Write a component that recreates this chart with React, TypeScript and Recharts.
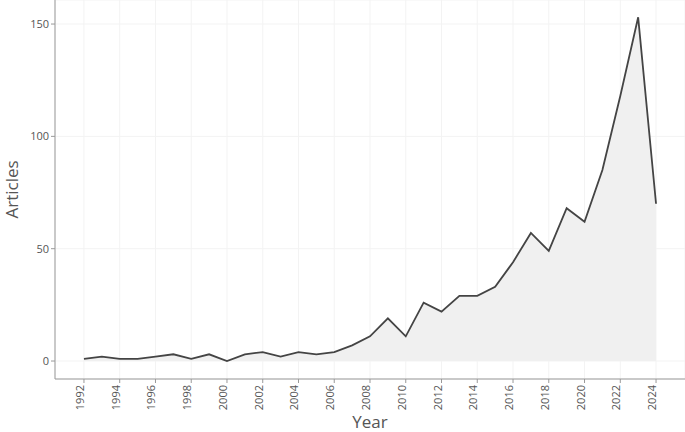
import React from "react";
import {
  AreaChart,
  Area,
  XAxis,
  YAxis,
  CartesianGrid,
  Label,
} from "recharts";

const years = [
  1992, 1993, 1994, 1995, 1996, 1997, 1998, 1999, 2000, 2001, 2002, 2003, 2004,
  2005, 2006, 2007, 2008, 2009, 2010, 2011, 2012, 2013, 2014, 2015, 2016, 2017,
  2018, 2019, 2020, 2021, 2022, 2023, 2024,
];
const articles = [
  1, 2, 1, 1, 2, 3, 1, 3, 0, 3, 4, 2, 4, 3, 4, 7, 11, 19, 11, 26, 22, 29, 29,
  33, 44, 57, 49, 68, 62, 85, 118, 153, 70,
];
const yearTicks = [
  1992, 1994, 1996, 1998, 2000, 2002, 2004, 2006, 2008, 2010, 2012, 2014, 2016,
  2018, 2020, 2022, 2024,
];
const articleTicks = [0, 50, 100, 150];

const data = years.map((year, i) => ({ year, articles: articles[i] }));

const font = "'Open Sans', 'DejaVu Sans', sans-serif";

const YearTick = (props: any) => {
  const { x, y, payload } = props;
  return (
    <text
      x={x}
      y={y}
      dx={4}
      dy={4}
      transform={`rotate(-90, ${x}, ${y + 4})`}
      textAnchor="end"
      fontSize={11}
      fontFamily={font}
      fill="#555"
    >
      {payload.value}
    </text>
  );
};

const YearLabel = (props: any) => {
  const { viewBox } = props;
  const cx = viewBox.x + viewBox.width / 2;
  return (
    <text
      x={cx}
      y={428}
      textAnchor="middle"
      fontSize={17}
      fontFamily={font}
      fill="#555"
    >
      Year
    </text>
  );
};

const ArticlesLabel = (props: any) => {
  const { viewBox } = props;
  const cy = viewBox.y + viewBox.height / 2;
  return (
    <text
      x={18}
      y={cy}
      transform={`rotate(-90, 18, ${cy})`}
      textAnchor="middle"
      fontSize={17}
      fontFamily={font}
      fill="#555"
    >
      Articles
    </text>
  );
};

export default function App() {
  return (
    <div style={{ width: 685, height: 432 }}>
      <style>{`body{margin:0}`}</style>
      <AreaChart
        width={685}
        height={432}
        data={data}
        margin={{ top: 0, right: 0, left: 0, bottom: 0 }}
      >
        <CartesianGrid stroke="#f3f3f3" strokeWidth={1} />
        <XAxis
          dataKey="year"
          type="number"
          domain={[1990.38, 2025.62]}
          ticks={yearTicks}
          interval={0}
          allowDataOverflow
          height={53}
          stroke="#999"
          tickSize={4}
          tick={<YearTick />}
        >
          <Label content={<YearLabel />} />
        </XAxis>
        <YAxis
          type="number"
          domain={[-8, 160.7]}
          ticks={articleTicks}
          interval={0}
          allowDataOverflow
          width={55}
          stroke="#999"
          tickSize={4}
          tickMargin={2}
          tick={{ fontSize: 11, fill: "#555", fontFamily: font }}
        >
          <Label content={<ArticlesLabel />} />
        </YAxis>
        <Area
          type="linear"
          dataKey="articles"
          baseValue={0}
          stroke="#444"
          strokeWidth={1.8}
          fill="#f0f0f0"
          fillOpacity={1}
          isAnimationActive={false}
          dot={false}
          activeDot={false}
        />
      </AreaChart>
    </div>
  );
}
